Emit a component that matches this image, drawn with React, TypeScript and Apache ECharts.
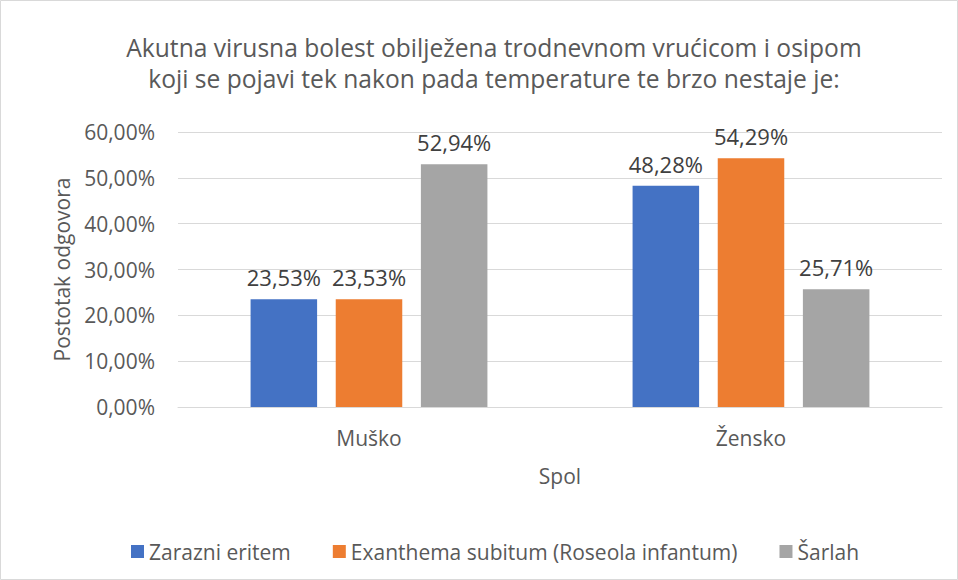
import React, { useEffect, useRef } from "react";
import * as echarts from "echarts";

const categories = ["Muško", "Žensko"];
const seriesNames = ["Zarazni eritem", "Exanthema subitum (Roseola infantum)", "Šarlah"];
const zarazni = [23.53, 48.28];
const exanthema = [23.53, 54.29];
const sarlah = [52.94, 25.71];
const colors = ["#4472C4", "#ED7D31", "#A5A5A5"];
const titleLines = [
  "Akutna virusna bolest obilježena trodnevnom vrućicom i osipom",
  "koji se pojavi tek nakon pada temperature te brzo nestaje je:",
];

const fmt = (v: number) => v.toFixed(2).replace(".", ",") + "%";
const FONT = "'Open Sans', 'Noto Sans', sans-serif";

export default function App() {
  const ref = useRef<HTMLDivElement>(null);
  useEffect(() => {
    document.body.style.margin = "0";
    const chart = echarts.init(ref.current!, undefined, { renderer: "svg" });
    const data = [zarazni, exanthema, sarlah];
    chart.setOption({
      animation: false,
      backgroundColor: "#ffffff",
      textStyle: { fontFamily: FONT },
      title: {
        text: titleLines.join("\n"),
        left: 489,
        textAlign: "center",
        top: 27,
        textStyle: { fontFamily: FONT, fontSize: 24.6, fontWeight: "normal", color: "#595959", lineHeight: 31 },
      },
      graphic: [
        {
          type: "rect",
          shape: { x: 0.5, y: 0.5, width: 957, height: 579 },
          style: { fill: "none", stroke: "#D9D9D9", lineWidth: 1 },
        },
      ],
      legend: {
        top: 536,
        left: 126,
        itemWidth: 13,
        itemHeight: 13,
        itemGap: 42,
        icon: "rect",
        textStyle: { fontFamily: FONT, fontSize: 21, color: "#595959" },
        data: seriesNames,
      },
      grid: { left: 178, right: 16, top: 132, bottom: 173, containLabel: false },
      xAxis: {
        type: "category",
        data: categories,
        name: "Spol",
        nameLocation: "middle",
        nameGap: 58,
        nameTextStyle: { fontFamily: FONT, fontSize: 21, color: "#595959" },
        axisLine: { lineStyle: { color: "#D9D9D9" } },
        axisTick: { show: false },
        axisLabel: { fontFamily: FONT, fontSize: 21, color: "#595959", margin: 20 },
      },
      yAxis: {
        type: "value",
        min: 0,
        max: 60,
        interval: 10,
        name: "Postotak odgovora",
        nameLocation: "middle",
        nameGap: 106,
        nameTextStyle: { fontFamily: FONT, fontSize: 21, color: "#595959" },
        axisLine: { show: false },
        axisTick: { show: false },
        splitLine: { lineStyle: { color: "#D9D9D9" } },
        axisLabel: { fontFamily: FONT, fontSize: 21, color: "#595959", margin: 23, formatter: (v: number) => fmt(v) },
      },
      series: seriesNames.map((name, i) => ({
        name,
        type: "bar",
        data: data[i],
        barGap: "28%",
        barCategoryGap: "38%",
        itemStyle: { color: colors[i] },
        label: {
          show: true,
          position: "top",
          distance: 11,
          fontFamily: FONT,
          fontSize: 22,
          color: "#404040",
          formatter: (p: any) => fmt(p.value),
        },
      })),
    });
    return () => chart.dispose();
  }, []);
  return <div ref={ref} style={{ width: 958, height: 580 }} />;
}
